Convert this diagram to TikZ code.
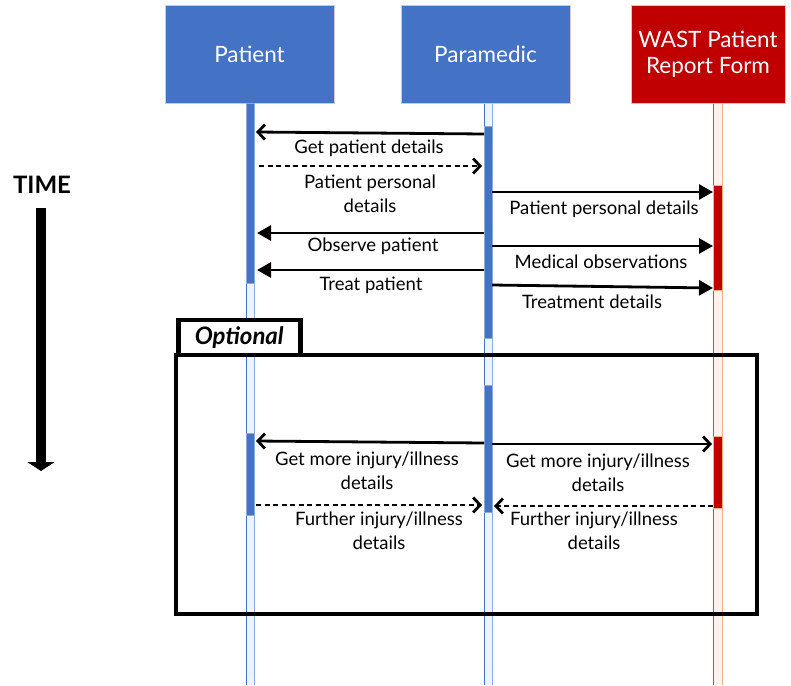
\documentclass[tikz,border=0pt]{standalone}
\usepackage{fontspec}
\setmainfont{Lato}
\usetikzlibrary{arrows.meta}
\definecolor{hblue}{HTML}{4472C4}
\definecolor{hred}{HTML}{C00000}
\definecolor{lfill}{HTML}{EEF2FA}
\definecolor{lline}{HTML}{8FAADC}
\definecolor{rfill}{HTML}{FCF1EC}
\definecolor{rline}{HTML}{C55A11}
\definecolor{rline2}{HTML}{F4B183}
\tikzset{
  head/.style={draw=black!20, line width=0.8pt, minimum width=169pt, minimum height=98pt, inner sep=0pt, text=white, font=\fontsize{22.5}{26}\selectfont, align=center},
  msg/.style={font=\fontsize{18.5}{24.5}\selectfont, align=center, inner sep=0pt},
  solidopen/.style={line width=2.8pt, -{Straight Barb[length=7pt,width=15pt,line width=2.8pt]}},
  dashopen/.style={line width=2.8pt, dash pattern=on 5pt off 3.5pt, -{Straight Barb[length=7pt,width=15pt,line width=2.8pt]}},
  solidfill/.style={line width=2.8pt, -{Triangle[length=14pt,width=15pt]}},
  actb/.style={fill=hblue, draw=lline, line width=0.5pt},
  actr/.style={fill=hred, draw=rline2, line width=0.5pt},
}
\begin{document}
\begin{tikzpicture}[x=1pt,y=-1pt]
\useasboundingbox (0,0) rectangle (791,685);
% lifelines
\fill[lfill] (246,103) rectangle (254,685);
\draw[hblue, line width=0.8pt] (246,103) -- (246,685);
\draw[lline, line width=0.8pt] (254,103) -- (254,685);
\fill[lfill] (484,103) rectangle (492,685);
\draw[hblue, line width=0.8pt] (484,103) -- (484,685);
\draw[lline, line width=0.8pt] (492,103) -- (492,685);
\fill[rfill] (713,103) rectangle (722,685);
\draw[rline, line width=0.8pt] (713,103) -- (713,685);
\draw[rline2, line width=0.8pt] (722,103) -- (722,685);
% heads
\node[head, fill=hblue] (patient) at (249.5,54) {Patient};
\node[head, fill=hblue] (para) at (485.5,54.5) {Paramedic};
\node[head, fill=hred, minimum width=154pt] (wast) at (708,54) {WAST Patient\\Report Form};
% activation bars
\node[actb, minimum width=8pt, minimum height=180pt, inner sep=0pt] (pa1) at (250,193) {};
\node[actb, minimum width=8pt, minimum height=212pt, inner sep=0pt] (ma1) at (488,232) {};
\node[actr, minimum width=9pt, minimum height=105pt, inner sep=0pt] (wa1) at (717.5,237.5) {};
\node[actb, minimum width=8pt, minimum height=127pt, inner sep=0pt] (ma2) at (488,448.5) {};
\node[actb, minimum width=8pt, minimum height=82pt, inner sep=0pt] (pa2) at (250,474) {};
\node[actr, minimum width=9pt, minimum height=72pt, inner sep=0pt] (wa2) at (717.5,472) {};
% coordinates
\coordinate (a1s) at (484,134); \coordinate (a1e) at (256,132);
\coordinate (a2s) at (259,166); \coordinate (a2e) at (482,166);
\coordinate (a3s) at (492,192); \coordinate (a3e) at (713,192);
\coordinate (a4s) at (484,233); \coordinate (a4e) at (257,233);
\coordinate (a5s) at (492,246); \coordinate (a5e) at (713,246);
\coordinate (a6s) at (484,270); \coordinate (a6e) at (257,270);
\coordinate (a7s) at (492,285); \coordinate (a7e) at (713,288);
\coordinate (b1s) at (484,443); \coordinate (b1e) at (256,441);
\coordinate (b2s) at (492,444); \coordinate (b2e) at (712,444);
\coordinate (b3s) at (256,505); \coordinate (b3e) at (482,505);
\coordinate (b4s) at (713,506); \coordinate (b4e) at (494,506);
% arrows
\draw[solidopen] (a1s) -- (a1e);
\draw[dashopen] (a2s) -- (a2e);
\draw[solidfill] (a3s) -- (a3e);
\draw[solidfill] (a4s) -- (a4e);
\draw[solidfill] (a5s) -- (a5e);
\draw[solidfill] (a6s) -- (a6e);
\draw[solidfill] (a7s) -- (a7e);
\draw[solidopen] (b1s) -- (b1e);
\draw[solidopen] (b2s) -- (b2e);
\draw[dashopen] (b3s) -- (b3e);
\draw[dashopen] (b4s) -- (b4e);
% labels
\node[msg] (l1) at (369,148) {Get patient details};
\node[msg] (l2) at (370,194) {Patient personal\\details};
\node[msg] (l3) at (604,209) {Patient personal details};
\node[msg] (l4) at (373,246) {Observe patient};
\node[msg] (l5) at (601,262) {Medical observations};
\node[msg] (l6) at (371,285) {Treat patient};
\node[msg] (l7) at (592,302) {Treatment details};
\node[msg] (l8) at (367,471) {Get more injury/illness\\details};
\node[msg] (l9) at (598,473) {Get more injury/illness\\details};
\node[msg] (l10) at (379,531) {Further injury/illness\\details};
\node[msg] (l11) at (594,531) {Further injury/illness\\details};
% optional frame
\draw[line width=4.5pt] (176,355) rectangle (757,614);
\node[draw, line width=4.5pt, fill=white, minimum width=122pt, minimum height=35pt, inner sep=0pt, anchor=south west, font=\fontsize{24}{28}\selectfont\bfseries\itshape] (opt) at (176,357.25) {Optional};
% time
\node[font=\fontsize{24}{28}\selectfont\bfseries] (time) at (42,185) {TIME};
\coordinate (ts) at (41,208); \coordinate (te) at (41,471);
\draw[line width=10pt, -{Triangle[length=9pt,width=27pt]}] (ts) -- (te);
\end{tikzpicture}
\end{document}
